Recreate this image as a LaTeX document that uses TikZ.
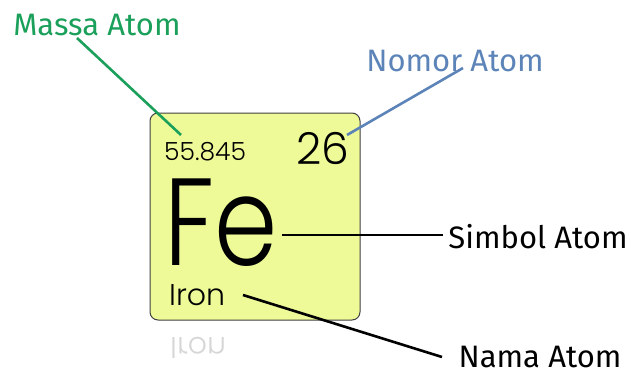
\documentclass[tikz,border=0pt]{standalone}
\usepackage{fontspec}
\setmainfont{Poppins}[UprightFont={* Light}]
\newfontfamily\labelfont{Fira Sans}
\definecolor{boxfill}{RGB}{238,250,152}
\definecolor{massgreen}{RGB}{26,160,90}
\definecolor{nomorblue}{RGB}{92,132,184}
\tikzset{
  lbl/.style={inner sep=0pt, anchor=center, font=\labelfont\fontsize{31}{31}\selectfont},
  elem/.style={inner sep=0pt, anchor=base west},
  lead/.style={line width=2.6pt}
}
\begin{document}
\begin{tikzpicture}[x=1pt,y=-1pt]
\useasboundingbox (0,0) rectangle (631,380);
% reflection
\node[elem, yscale=-1, text=black!16, font=\fontsize{30}{30}\selectfont] (refl) at (170,337) {Iron};
% tile
\draw[fill=boxfill, draw=black!75, line width=1pt, rounded corners=8pt] (150,113) rectangle (360,320);
\node[elem, font=\fontsize{25}{25}\selectfont] (mass) at (164,160) {55.845};
\node[elem, font=\fontsize{44}{44}\selectfont] (num) at (296,164) {26};
\node[elem, xscale=0.82, font=\fontsize{124}{124}\selectfont] (sym) at (164,265) {Fe};
\node[elem, font=\fontsize{30}{30}\selectfont] (name) at (169,305) {Iron};
% labels
\node[lbl, text=massgreen] (lmass) at (97,25) {Massa Atom};
\node[lbl, text=nomorblue] (lnum) at (455,61) {Nomor Atom};
\node[lbl] (lsym) at (538,237) {Simbol Atom};
\node[lbl] (lname) at (540,357) {Nama Atom};
% leaders
\coordinate (m1) at (77,38); \coordinate (m2) at (181,135);
\coordinate (n1) at (463,68); \coordinate (n2) at (347,135);
\coordinate (s1) at (282,235); \coordinate (s2) at (443,235);
\coordinate (a1) at (243,295); \coordinate (a2) at (442,357);
\draw[lead, draw=massgreen] (m1) -- (m2);
\draw[lead, draw=nomorblue] (n1) -- (n2);
\draw[lead] (s1) -- (s2);
\draw[lead] (a1) -- (a2);
\end{tikzpicture}
\end{document}
